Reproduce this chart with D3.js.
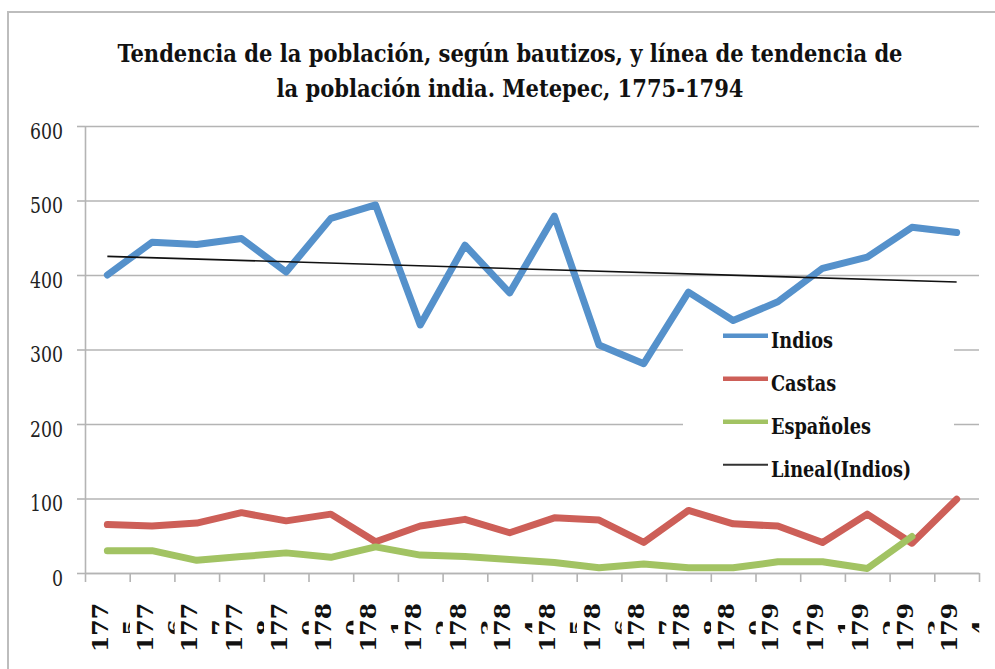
<!DOCTYPE html>
<html>
<head>
<meta charset="utf-8">
<script src="https://cdn.jsdelivr.net/npm/d3@7"></script>
<style>
    body { margin: 0; background: #fff; }
    svg { display: block; }
</style>
</head>
<body>
<div id="chartContainer"></div>
<script>
/***** Data */

const years = [1775, 1776, 1777, 1778, 1779, 1780, 1781, 1782, 1783, 1784,
               1785, 1786, 1787, 1788, 1789, 1790, 1791, 1792, 1793, 1794];

const indios    = [400, 444, 441, 449, 404, 476, 494, 333, 440, 376,
                   479, 306, 281, 377, 339, 364, 409, 424, 464, 457];
const castas    = [65, 63, 67, 81, 70, 79, 42, 63, 72, 54,
                   74, 71, 41, 84, 66, 63, 41, 79, 40, 99];
const espanoles = [30, 30, 17, 22, 27, 21, 35, 24, 22, 18,
                   14, 7, 12, 7, 7, 15, 15, 6, 49, null];

const yTicks = [0, 100, 200, 300, 400, 500, 600];

const seriesNames = ['Indios', 'Castas', 'Españoles'];
const legendNames = ['Indios', 'Castas', 'Españoles', 'Lineal(Indios)'];

const titleLines = [
    'Tendencia de la población, según bautizos, y línea de tendencia de',
    'la población india. Metepec, 1775-1794'
];

/***** Drawing */

const width = 995;
const height = 669;
const plot = { left: 85, right: 979, top: 126, bottom: 573 };

const colors = ['#5591cb', '#cd5f58', '#a2c363'];
const gridColor = '#b4b4b4';
const serif = '"DejaVu Serif", "Liberation Serif", serif';
const serifCondensed = '"DejaVu Serif Condensed", "DejaVu Serif", serif';

const svg = d3.select('#chartContainer').append('svg')
    .attr('width', width)
    .attr('height', height);

// outer chart frame (only top and left edges are inside the picture)
svg.append('rect')
    .attr('x', 8)
    .attr('y', 12)
    .attr('width', width + 20)
    .attr('height', height + 20)
    .attr('fill', '#fff')
    .attr('stroke', '#bdbdbd')
    .attr('stroke-width', 2);

const y = d3.scaleLinear().domain([0, 600]).range([plot.bottom, plot.top]);
const x = d3.scaleBand().domain(years).range([plot.left, plot.right]);
const xEdge = d3.scaleLinear().domain([0, years.length]).range([plot.left, plot.right]);
const xCenter = (year) => x(year) + x.bandwidth() / 2;

// squeeze/stretch a text to a factor of its natural length
const condense = (textSel, factor) => {
    textSel.each(function () {
        const natural = this.getComputedTextLength();
        d3.select(this)
            .attr('textLength', natural * factor)
            .attr('lengthAdjust', 'spacingAndGlyphs');
    });
};

// gridlines
svg.append('g')
    .attr('transform', `translate(${plot.left},0)`)
    .call(d3.axisLeft(y).tickValues(yTicks).tickSize(-(plot.right - plot.left)).tickFormat(''))
    .call(g => g.select('.domain').remove())
    .call(g => g.selectAll('line').attr('stroke', gridColor).attr('stroke-width', 1.6));

// y axis with labels
const yAxis = svg.append('g')
    .attr('transform', `translate(${plot.left},0)`)
    .call(d3.axisLeft(y).tickValues(yTicks).tickSize(8).tickSizeOuter(0).tickPadding(14));
yAxis.select('.domain').attr('stroke', gridColor).attr('stroke-width', 1.6);
yAxis.selectAll('line').attr('stroke', gridColor).attr('stroke-width', 1.6);
const yLabels = yAxis.selectAll('text')
    .attr('y', 5)
    .attr('fill', '#222')
    .style('font-family', serif)
    .style('font-size', '22px');
condense(yLabels, 33 / yLabels.filter(v => v === 600).node().getComputedTextLength());

// x axis: ticks on category boundaries
const xAxis = svg.append('g')
    .attr('transform', `translate(0,${plot.bottom})`)
    .call(d3.axisBottom(xEdge).tickValues(d3.range(years.length + 1)).tickSize(9).tickSizeOuter(0).tickFormat(''));
xAxis.select('.domain').attr('stroke', gridColor).attr('stroke-width', 1.6);
xAxis.selectAll('line').attr('stroke', gridColor).attr('stroke-width', 1.6);

// x labels: rotated, wrapped after 3 digits, second line half clipped
svg.append('defs').append('clipPath')
    .attr('id', 'labelClip')
    .append('rect')
    .attr('x', -30)
    .attr('y', 590)
    .attr('width', 52.6)
    .attr('height', 79);

const labelGroups = svg.append('g').selectAll('.yearLabel')
    .data(years)
    .enter()
    .append('g')
    .attr('class', 'yearLabel')
    .attr('transform', year => `translate(${xCenter(year)},0)`)
    .attr('clip-path', 'url(#labelClip)');

const labelLine1 = labelGroups.append('text')
    .attr('transform', 'translate(0.6,627.5) rotate(-90)')
    .text(year => String(year).slice(0, 3));
const labelLine2 = labelGroups.append('text')
    .attr('transform', 'translate(31.6,627.5) rotate(-90)')
    .text(year => String(year).slice(3));
labelGroups.selectAll('text')
    .attr('text-anchor', 'middle')
    .attr('fill', '#111')
    .style('font-family', serif)
    .style('font-weight', 'bold')
    .style('font-size', '22px');
const labelFactor = 49 / labelLine1.node().getComputedTextLength();
condense(labelLine1, labelFactor);
condense(labelLine2, labelFactor);

// series lines
const line = d3.line()
    .defined(d => d[1] !== null)
    .x(d => xCenter(d[0]))
    .y(d => y(d[1]));

[indios, castas, espanoles].forEach((values, i) => {
    svg.append('path')
        .datum(years.map((year, j) => [year, values[j]]))
        .attr('class', 'seriesLine')
        .attr('d', line)
        .attr('fill', 'none')
        .attr('stroke', colors[i])
        .attr('stroke-width', 7)
        .attr('stroke-linejoin', 'round')
        .attr('stroke-linecap', 'round');
});

// linear trend of Indios (least squares over category index)
const idx = years.map((year, i) => i);
const meanX = d3.mean(idx);
const meanY = d3.mean(indios);
const slope = d3.sum(idx, i => (i - meanX) * (indios[i] - meanY)) / d3.sum(idx, i => (i - meanX) ** 2);
const intercept = meanY - slope * meanX;
const trendPoints = [0, years.length - 1].map(i => [years[i], intercept + slope * i]);

svg.append('path')
    .datum(trendPoints)
    .attr('d', line)
    .attr('fill', 'none')
    .attr('stroke', '#111')
    .attr('stroke-width', 1.6);

// legend
svg.append('rect')
    .attr('x', 683)
    .attr('y', 327)
    .attr('width', 271)
    .attr('height', 158)
    .attr('fill', '#fff');

const legendItems = svg.append('g').selectAll('.legendItem')
    .data(legendNames)
    .enter()
    .append('g')
    .attr('class', 'legendItem')
    .attr('transform', (name, i) => `translate(723,${335.7 + i * 43})`);

legendItems.append('line')
    .attr('x1', 0)
    .attr('x2', 45)
    .attr('stroke', (name, i) => i < seriesNames.length ? colors[i] : '#333')
    .attr('stroke-width', (name, i) => i < seriesNames.length ? 4.5 : 2);

const legendTexts = legendItems.append('text')
    .attr('x', 48)
    .attr('y', 12)
    .attr('fill', '#111')
    .style('font-family', serif)
    .style('font-weight', 'bold')
    .style('font-size', '23px')
    .text(name => name);
condense(legendTexts, 62 / legendTexts.node().getComputedTextLength());

// title
const titleTexts = svg.append('g').selectAll('.titleLine')
    .data(titleLines)
    .enter()
    .append('text')
    .attr('class', 'titleLine')
    .attr('x', 510)
    .attr('y', (t, i) => 62 + i * 35)
    .attr('text-anchor', 'middle')
    .attr('fill', '#111')
    .style('font-family', serifCondensed)
    .style('font-stretch', 'condensed')
    .style('font-weight', 'bold')
    .style('font-size', '24px')
    .text(t => t);
condense(titleTexts, 785 / titleTexts.node().getComputedTextLength());
</script>
</body>
</html>
